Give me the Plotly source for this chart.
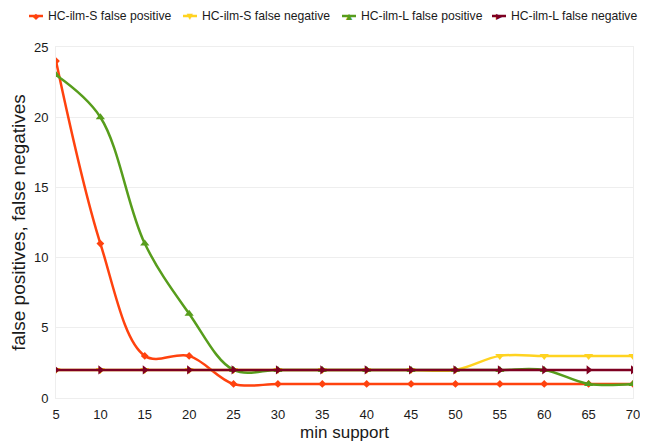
import plotly.graph_objects as go

min_support = [5, 10, 15, 20, 25, 30, 35, 40, 45, 50, 55, 60, 65, 70]
s_fp = [24, 11, 3, 3, 1, 1, 1, 1, 1, 1, 1, 1, 1, 1]
s_fn = [2, 2, 2, 2, 2, 2, 2, 2, 2, 2, 3, 3, 3, 3]
l_fp = [23, 20, 11, 6, 2, 2, 2, 2, 2, 2, 2, 2, 1, 1]
l_fn = [2, 2, 2, 2, 2, 2, 2, 2, 2, 2, 2, 2, 2, 2]

names = ["HC-ilm-S false positive", "HC-ilm-S false negative",
         "HC-ilm-L false positive", "HC-ilm-L false negative"]
values = [s_fp, s_fn, l_fp, l_fn]
colors = ["#ff420e", "#ffd320", "#579d1c", "#7e0021"]
symbols = ["diamond", "triangle-down", "triangle-up", "triangle-right"]
glyphs = ["◆", "▼", "▲", "▶"]
sizes = [6, 8, 8, 8]

# page has an 8px body margin; figure is sized so the plot lands like the reference
OFF = 8
W, H = 648 - OFF, 442 - OFF
L, R, T, B = 56 - OFF, 15, 47 - OFF, 44
PW, PH = W - L - R, H - T - B

def px_x(px):
    return (px - OFF - L) / PW

def px_y(py):
    return 1 - (py - OFF - T) / PH

fig = go.Figure()
for name, ys, color, sym, size in zip(names, values, colors, symbols, sizes):
    fig.add_trace(go.Scatter(
        x=min_support, y=ys, name=name, mode="lines+markers",
        line=dict(color=color, width=2.5, shape="spline", smoothing=1),
        marker=dict(symbol=sym, size=size, color=color),
        showlegend=False,
    ))

# manual legend (compact, single row like reference)
legend_x = [29, 183, 342, 492]
ly = 16
for lx, name, color, g in zip(legend_x, names, colors, glyphs):
    fig.add_shape(type="line", xref="paper", yref="paper",
                  x0=px_x(lx), x1=px_x(lx + 14), y0=px_y(ly), y1=px_y(ly),
                  line=dict(color=color, width=2.5))
    fig.add_annotation(xref="paper", yref="paper", x=px_x(lx + 7), y=px_y(ly),
                       text=g, showarrow=False, xanchor="center", yanchor="middle",
                       font=dict(color=color, size=8, family="DejaVu Sans"))
    fig.add_annotation(xref="paper", yref="paper", x=px_x(lx + 17), y=px_y(ly),
                       text=name, showarrow=False, xanchor="left", yanchor="middle",
                       font=dict(color="#1a1a1a", size=12.2,
                                 family="Liberation Sans, Arial, sans-serif"))

fig.update_layout(
    width=W, height=H,
    margin=dict(l=L, r=R, t=T, b=B),
    paper_bgcolor="white", plot_bgcolor="white",
    font=dict(family="Liberation Sans, Arial, sans-serif", color="#1a1a1a", size=13),
    showlegend=False,
)
fig.update_xaxes(
    range=[5, 70], tickmode="array", tickvals=min_support,
    showgrid=False, zeroline=False, showline=True, linecolor="#eeeeee",
    mirror=True, ticks="outside", ticklen=4, tickcolor="rgba(0,0,0,0)",
    tickfont=dict(size=13), automargin=False,
    title=dict(text="min support", font=dict(size=17), standoff=6),
)
fig.update_yaxes(
    range=[0, 25], dtick=5, showgrid=True, gridcolor="#eeeeee",
    zeroline=False, showline=True, linecolor="#eeeeee", mirror=True,
    ticks="outside", ticklen=4, tickcolor="rgba(0,0,0,0)",
    tickfont=dict(size=13), automargin=False,
    title=dict(text="false positives, false negatives", font=dict(size=19), standoff=9),
)

fig.write_html("out.html")
